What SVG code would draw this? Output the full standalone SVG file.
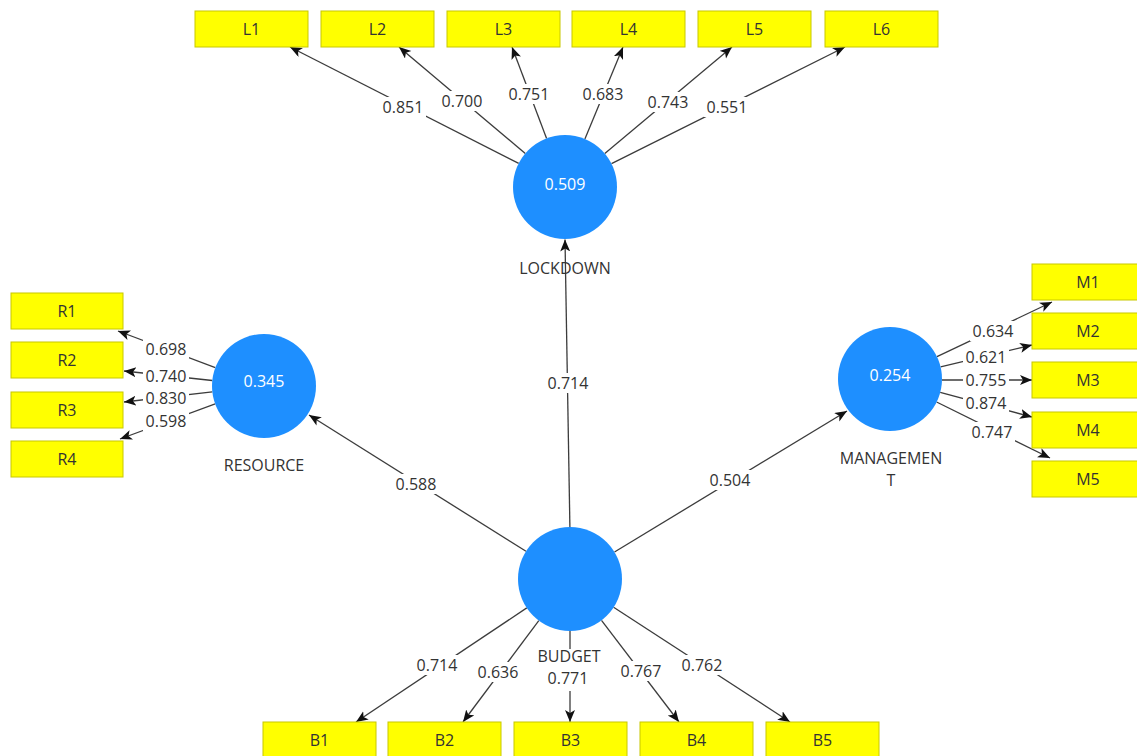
<svg xmlns="http://www.w3.org/2000/svg" width="1137" height="756" viewBox="0 0 1137 756">
<style>
.box{fill:#ffff00;stroke:#c8c800;stroke-width:1}
.bt{font-family:"Open Sans","Noto Sans",sans-serif;font-size:16px;fill:#333;text-anchor:middle}
.lv{fill:#1e8fff}
.cv{font-family:"Open Sans","Noto Sans",sans-serif;font-size:16px;fill:#fff;text-anchor:middle}
.nl{font-family:"Open Sans","Noto Sans",sans-serif;font-size:16px;fill:#333;text-anchor:middle}
.ed{stroke:#3c3c3c;stroke-width:1.3;fill:none;marker-end:url(#ah)}
.sg{stroke:#3c3c3c;stroke-width:1.3;fill:none}
.lbg{fill:#fff}
.el{font-family:"Open Sans","Noto Sans",sans-serif;font-size:16px;fill:#333;text-anchor:middle}
</style>
<defs>
<marker id="ah" markerUnits="userSpaceOnUse" markerWidth="14" markerHeight="12" refX="12" refY="5" orient="auto">
<path d="M0,0 L12,5 L0,10 L3,5 Z" fill="#111"/>
</marker>
</defs>
<rect width="1137" height="756" fill="#fff"/>
<g id="connectors">
<line class="ed" x1="518.7" y1="163.4" x2="290" y2="47"/>
<line class="ed" x1="525.3" y1="153.5" x2="399" y2="47"/>
<line class="ed" x1="546.6" y1="138.4" x2="512" y2="47"/>
<line class="ed" x1="584.9" y1="139.0" x2="623" y2="47"/>
<line class="ed" x1="604.8" y1="153.6" x2="732" y2="47"/>
<line class="ed" x1="611.5" y1="163.7" x2="845" y2="47"/>
<line class="ed" x1="569.9" y1="527" x2="565" y2="239.5"/>
<line class="ed" x1="526.0" y1="551.3" x2="309" y2="415"/>
<line class="ed" x1="614.5" y1="552.0" x2="847" y2="411"/>
<line class="ed" x1="526.8" y1="607.9" x2="356" y2="722"/>
<line class="ed" x1="538.8" y1="620.6" x2="463" y2="722"/>
<line class="sg" x1="570" y1="631" x2="570" y2="649"/>
<line class="ed" x1="570" y1="691" x2="570" y2="722"/>
<line class="ed" x1="601.5" y1="620.3" x2="679" y2="722"/>
<line class="ed" x1="613.6" y1="607.3" x2="790" y2="722"/>
<line class="ed" x1="215.3" y1="367.7" x2="118" y2="331"/>
<line class="ed" x1="212.3" y1="380.5" x2="124" y2="371"/>
<line class="ed" x1="212.3" y1="391.9" x2="124" y2="402"/>
<line class="ed" x1="215.2" y1="403.9" x2="120" y2="439"/>
<line class="ed" x1="937.0" y1="356.7" x2="1052" y2="302"/>
<line class="ed" x1="940.6" y1="366.9" x2="1032" y2="345"/>
<line class="ed" x1="942" y1="380" x2="1032" y2="380"/>
<line class="ed" x1="940.2" y1="392.4" x2="1032" y2="417"/>
<line class="ed" x1="936.6" y1="402.0" x2="1050" y2="458"/>
<g id="edge-labels">
<rect class="lbg" x="380" y="97" width="46" height="20"/><text class="el" x="403" y="112.5">0.851</text>
<rect class="lbg" x="439" y="91" width="46" height="20"/><text class="el" x="462" y="106.5">0.700</text>
<rect class="lbg" x="506" y="84" width="46" height="20"/><text class="el" x="529" y="99.5">0.751</text>
<rect class="lbg" x="580" y="84" width="46" height="20"/><text class="el" x="603" y="99.5">0.683</text>
<rect class="lbg" x="645" y="92" width="46" height="20"/><text class="el" x="668" y="107.5">0.743</text>
<rect class="lbg" x="704" y="97" width="46" height="20"/><text class="el" x="727" y="112.5">0.551</text>
<rect class="lbg" x="545" y="373" width="46" height="20"/><text class="el" x="568" y="388.5">0.714</text>
<rect class="lbg" x="393" y="474" width="46" height="20"/><text class="el" x="416" y="489.5">0.588</text>
<rect class="lbg" x="707" y="470" width="46" height="20"/><text class="el" x="730" y="485.5">0.504</text>
<rect class="lbg" x="414" y="655" width="46" height="20"/><text class="el" x="437" y="670.5">0.714</text>
<rect class="lbg" x="475" y="662" width="46" height="20"/><text class="el" x="498" y="677.5">0.636</text>
<text class="el" x="568" y="684">0.771</text>
<rect class="lbg" x="618" y="661" width="46" height="20"/><text class="el" x="641" y="676.5">0.767</text>
<rect class="lbg" x="679" y="655" width="46" height="20"/><text class="el" x="702" y="670.5">0.762</text>
<rect class="lbg" x="143" y="339" width="46" height="20"/><text class="el" x="166" y="354.5">0.698</text>
<rect class="lbg" x="143" y="367" width="46" height="18"/><text class="el" x="166" y="381.5">0.740</text>
<rect class="lbg" x="143" y="389" width="46" height="18"/><text class="el" x="166" y="403.5">0.830</text>
<rect class="lbg" x="143" y="411" width="46" height="20"/><text class="el" x="166" y="426.5">0.598</text>
<rect class="lbg" x="970" y="321" width="46" height="20"/><text class="el" x="993" y="336.5">0.634</text>
<rect class="lbg" x="963" y="348" width="46" height="18"/><text class="el" x="986" y="362.5">0.621</text>
<rect class="lbg" x="963" y="371" width="46" height="18"/><text class="el" x="986" y="385.5">0.755</text>
<rect class="lbg" x="963" y="394" width="46" height="18"/><text class="el" x="986" y="408.5">0.874</text>
<rect class="lbg" x="969" y="422" width="46" height="20"/><text class="el" x="992" y="437.5">0.747</text>
</g>
</g>
<g id="LOCKDOWN">
<circle class="lv" cx="565" cy="187" r="52"/>
<text class="cv" x="565" y="189.5">0.509</text>
<text class="nl" x="565" y="273.5">LOCKDOWN</text>
</g>
<g id="RESOURCE">
<circle class="lv" cx="264" cy="386" r="52"/>
<text class="cv" x="264" y="386.5">0.345</text>
<text class="nl" x="264" y="470.5">RESOURCE</text>
</g>
<g id="MANAGEMENT">
<circle class="lv" cx="890" cy="379" r="52"/>
<text class="cv" x="890" y="380.5">0.254</text>
<text class="nl" x="891" y="463.5">MANAGEMEN</text>
<text class="nl" x="891" y="485.5">T</text>
</g>
<g id="BUDGET">
<circle class="lv" cx="570" cy="579" r="52"/>
<text class="nl" x="569" y="661.5">BUDGET</text>
</g>
<g id="L1"><rect class="box" x="195" y="11" width="113" height="36"/><text class="bt" x="251.5" y="35">L1</text></g>
<g id="L2"><rect class="box" x="321" y="11" width="113" height="36"/><text class="bt" x="377.5" y="35">L2</text></g>
<g id="L3"><rect class="box" x="447" y="11" width="113" height="36"/><text class="bt" x="503.5" y="35">L3</text></g>
<g id="L4"><rect class="box" x="572" y="11" width="113" height="36"/><text class="bt" x="628.5" y="35">L4</text></g>
<g id="L5"><rect class="box" x="698" y="11" width="113" height="36"/><text class="bt" x="754.5" y="35">L5</text></g>
<g id="L6"><rect class="box" x="825" y="11" width="113" height="36"/><text class="bt" x="881.5" y="35">L6</text></g>
<g id="R1"><rect class="box" x="11" y="293" width="112" height="36"/><text class="bt" x="67" y="317">R1</text></g>
<g id="R2"><rect class="box" x="11" y="342" width="112" height="36"/><text class="bt" x="67" y="366">R2</text></g>
<g id="R3"><rect class="box" x="11" y="392" width="112" height="36"/><text class="bt" x="67" y="416">R3</text></g>
<g id="R4"><rect class="box" x="11" y="441" width="112" height="36"/><text class="bt" x="67" y="465">R4</text></g>
<g id="M1"><rect class="box" x="1032" y="264" width="113" height="36"/><text class="bt" x="1088" y="288">M1</text></g>
<g id="M2"><rect class="box" x="1032" y="313" width="113" height="36"/><text class="bt" x="1088" y="337">M2</text></g>
<g id="M3"><rect class="box" x="1032" y="362" width="113" height="36"/><text class="bt" x="1088" y="386">M3</text></g>
<g id="M4"><rect class="box" x="1032" y="412" width="113" height="36"/><text class="bt" x="1088" y="436">M4</text></g>
<g id="M5"><rect class="box" x="1032" y="461" width="113" height="36"/><text class="bt" x="1088" y="485">M5</text></g>
<g id="B1"><rect class="box" x="263" y="722" width="113" height="36"/><text class="bt" x="319.5" y="746">B1</text></g>
<g id="B2"><rect class="box" x="388" y="722" width="113" height="36"/><text class="bt" x="444.5" y="746">B2</text></g>
<g id="B3"><rect class="box" x="514" y="722" width="113" height="36"/><text class="bt" x="570.5" y="746">B3</text></g>
<g id="B4"><rect class="box" x="640" y="722" width="113" height="36"/><text class="bt" x="696.5" y="746">B4</text></g>
<g id="B5"><rect class="box" x="766" y="722" width="113" height="36"/><text class="bt" x="822.5" y="746">B5</text></g>
</svg>
